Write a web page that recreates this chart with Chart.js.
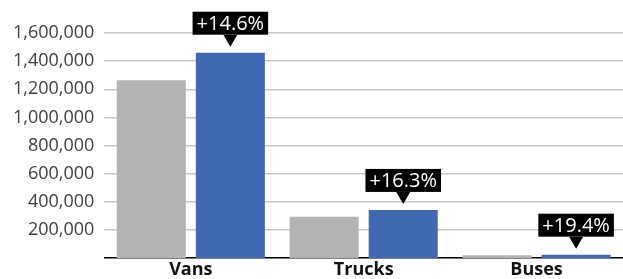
<!DOCTYPE html>
<html>
<head>
<meta charset="utf-8">
<script src="https://cdn.jsdelivr.net/npm/chart.js@4/dist/chart.umd.min.js"></script>
<style>
  html, body { margin: 0; padding: 0; background: #fff; }
  #wrap { width: 623px; height: 279px; }
</style>
</head>
<body>
<div id="wrap"><canvas id="chart"></canvas></div>
<script>
// data
const categories = ["Vans", "Trucks", "Buses"];
const previousValues = [1265000, 294000, 21000];
const currentValues = [1460000, 343000, 25000];
const growthLabels = ["+14.6%", "+16.3%", "+19.4%"];
const yTicks = [200000, 400000, 600000, 800000, 1000000, 1200000, 1400000, 1600000];

// black callout boxes with a small pointer above the blue bars
const calloutPlugin = {
  id: "callouts",
  afterDatasetsDraw(chart) {
    const ctx = chart.ctx;
    const meta = chart.getDatasetMeta(1);
    ctx.save();
    ctx.font = "20px 'Open Sans', sans-serif";
    ctx.textAlign = "center";
    ctx.textBaseline = "middle";
    meta.data.forEach((bar, i) => {
      const text = growthLabels[i];
      const tipY = bar.y - 6;
      const arrowH = 12;
      const boxH = 23;
      const boxW = ctx.measureText(text).width + 8;
      const boxBottom = tipY - arrowH;
      ctx.fillStyle = "#000";
      ctx.fillRect(bar.x - boxW / 2, boxBottom - boxH, boxW, boxH);
      ctx.beginPath();
      ctx.moveTo(bar.x - 7, boxBottom);
      ctx.lineTo(bar.x + 7, boxBottom);
      ctx.lineTo(bar.x, tipY);
      ctx.closePath();
      ctx.fill();
      ctx.fillStyle = "#fff";
      ctx.fillText(text, bar.x, boxBottom - boxH / 2 + 1);
    });
    ctx.restore();
  }
};

new Chart(document.getElementById("chart"), {
  type: "bar",
  data: {
    labels: categories,
    datasets: [
      {
        label: "Previous",
        data: previousValues,
        backgroundColor: "#b3b3b3",
        categoryPercentage: 0.915,
        barPercentage: 0.873
      },
      {
        label: "Current",
        data: currentValues,
        backgroundColor: "#4169b2",
        categoryPercentage: 0.915,
        barPercentage: 0.873
      }
    ]
  },
  options: {
    responsive: true,
    maintainAspectRatio: false,
    animation: false,
    layout: { padding: { top: 33, right: 0, left: 3, bottom: -4 } },
    plugins: {
      legend: { display: false },
      tooltip: { enabled: false }
    },
    scales: {
      x: {
        grid: { display: false, drawTicks: false },
        border: { color: "#000", width: 1.5 },
        ticks: {
          color: "#111",
          padding: 1,
          font: { family: "'Open Sans', sans-serif", size: 18, weight: "bold" }
        }
      },
      y: {
        min: 0,
        max: 1600000,
        afterBuildTicks: (axis) => {
          axis.ticks = yTicks.map((v) => ({ value: v }));
        },
        grid: { color: "#c8c8c8", lineWidth: 1.5, drawTicks: false },
        border: { display: false },
        ticks: {
          color: "#404040",
          padding: 10,
          font: { family: "'Open Sans', sans-serif", size: 18 },
          callback: (v) => v.toLocaleString("en-US")
        }
      }
    }
  },
  plugins: [calloutPlugin]
});
</script>
</body>
</html>
